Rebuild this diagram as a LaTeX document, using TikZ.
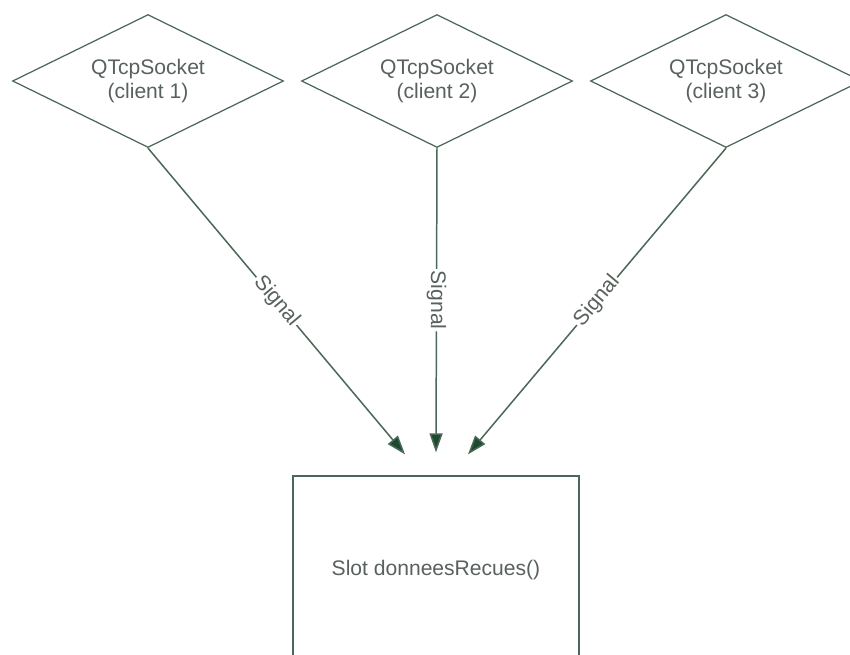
\documentclass[tikz,border=0pt]{standalone}
\usepackage{fontspec}
\setmainfont{Liberation Sans}
\usepackage{xcolor}
\usetikzlibrary{arrows.meta,positioning,shapes.geometric,calc}

\definecolor{edgegreen}{HTML}{4A6757}
\definecolor{tipgreen}{HTML}{1D4A2F}
\definecolor{labelgrey}{HTML}{58615B}

\begin{document}
\begin{tikzpicture}[x=0.02cm, y=-0.02cm,
    every node/.style={font=\fontsize{12}{14}\selectfont, text=labelgrey},
    socket/.style={diamond, aspect=2, draw=edgegreen, line width=0.7pt, minimum width=5.42cm, minimum height=2.66cm, inner sep=0pt, align=center},
    slotbox/.style={rectangle, draw=edgegreen, line width=0.8pt, minimum width=5.72cm, minimum height=3.76cm},
    signal/.style={draw=edgegreen, line width=0.85pt, -{Triangle[length=10.8pt, width=7.4pt, fill=tipgreen]}},
    siglabel/.style={midway, sloped, fill=white, inner sep=1pt}]
    \useasboundingbox (0,0) rectangle (850,654);
    \clip (0,0) rectangle (850,654);

    % Sockets
    \node[socket] (client1) at (148,81) {QTcpSocket\\(client 1)};
    \node[socket] (client2) at (437,81) {QTcpSocket\\(client 2)};
    \node[socket] (client3) at (726,81) {QTcpSocket\\(client 3)};

    % Slot
    \node[slotbox] (slot) at (436,570) {Slot donneesRecues()};
    \coordinate (in1) at ($(slot.north)+(-31,-21)$);
    \coordinate (in2) at ($(slot.north)+(0,-23)$);
    \coordinate (in3) at ($(slot.north)+(32,-21)$);

    % Signals
    \draw[signal] (client1.south) -- (in1) node[siglabel] {Signal};
    \draw[signal] (client2.south) -- (in2) node[siglabel, allow upside down] {Signal};
    \draw[signal] (client3.south) -- (in3) node[siglabel] {Signal};
\end{tikzpicture}
\end{document}
